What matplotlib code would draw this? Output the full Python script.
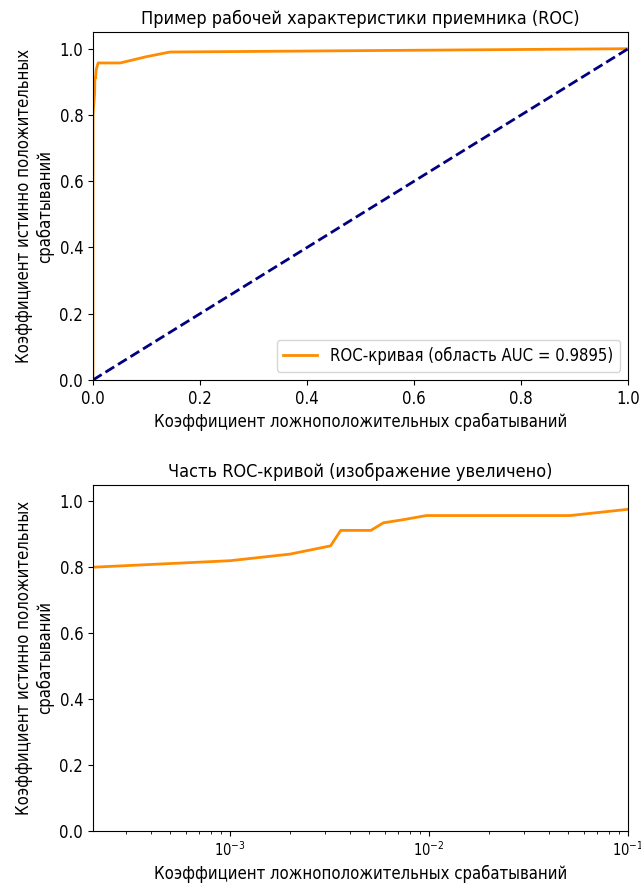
import numpy as np
import matplotlib
matplotlib.use('Agg')
import matplotlib.pyplot as plt

plt.rcParams['font.family'] = ['DejaVu Sans']
plt.rcParams['font.stretch'] = 'condensed'
plt.rcParams['font.size'] = 12

# точки ROC-кривой
fpr = [0.0, 0.0, 0.0002, 0.001, 0.002, 0.0032, 0.0036, 0.0051, 0.0059, 0.0075,
       0.0097, 0.051, 0.1, 0.144, 1.0]
tpr = [0.0, 0.44, 0.80, 0.82, 0.84, 0.865, 0.912, 0.912, 0.935, 0.945,
       0.957, 0.957, 0.976, 0.99, 1.0]
roc_auc = 0.9895

xlab = 'Коэффициент ложноположительных срабатываний'
ylab = 'Коэффициент истинно положительных\nсрабатываний'

fig = plt.figure(figsize=(6.41, 8.93), dpi=100)

ax1 = fig.add_axes([0.145, 0.5745, 0.835, 0.3895])
ax1.plot(fpr, tpr, color='darkorange', lw=2,
         label='ROC-кривая (область AUC = %0.4f)' % roc_auc)
ax1.plot([0, 1], [0, 1], color='navy', lw=2, linestyle='--')
ax1.set_xlim([0.0, 1.0])
ax1.set_ylim([0.0, 1.05])
ax1.set_xlabel(xlab)
ax1.set_ylabel(ylab)
ax1.set_title('Пример рабочей характеристики приемника (ROC)', fontsize=13)
ax1.legend(loc='lower right')

ax2 = fig.add_axes([0.145, 0.0694, 0.835, 0.3876])
ax2.plot(fpr, tpr, color='darkorange', lw=2)
ax2.set_xscale('log')
ax2.set_xlim([2.05e-4, 0.1])
ax2.set_ylim([0.0, 1.05])
ax2.tick_params(axis='x', labelsize=10.5)
ax2.set_xlabel(xlab)
ax2.set_ylabel(ylab)
ax2.set_title('Часть ROC-кривой (изображение увеличено)', fontsize=13)

fig.savefig('out.png', dpi=100)
